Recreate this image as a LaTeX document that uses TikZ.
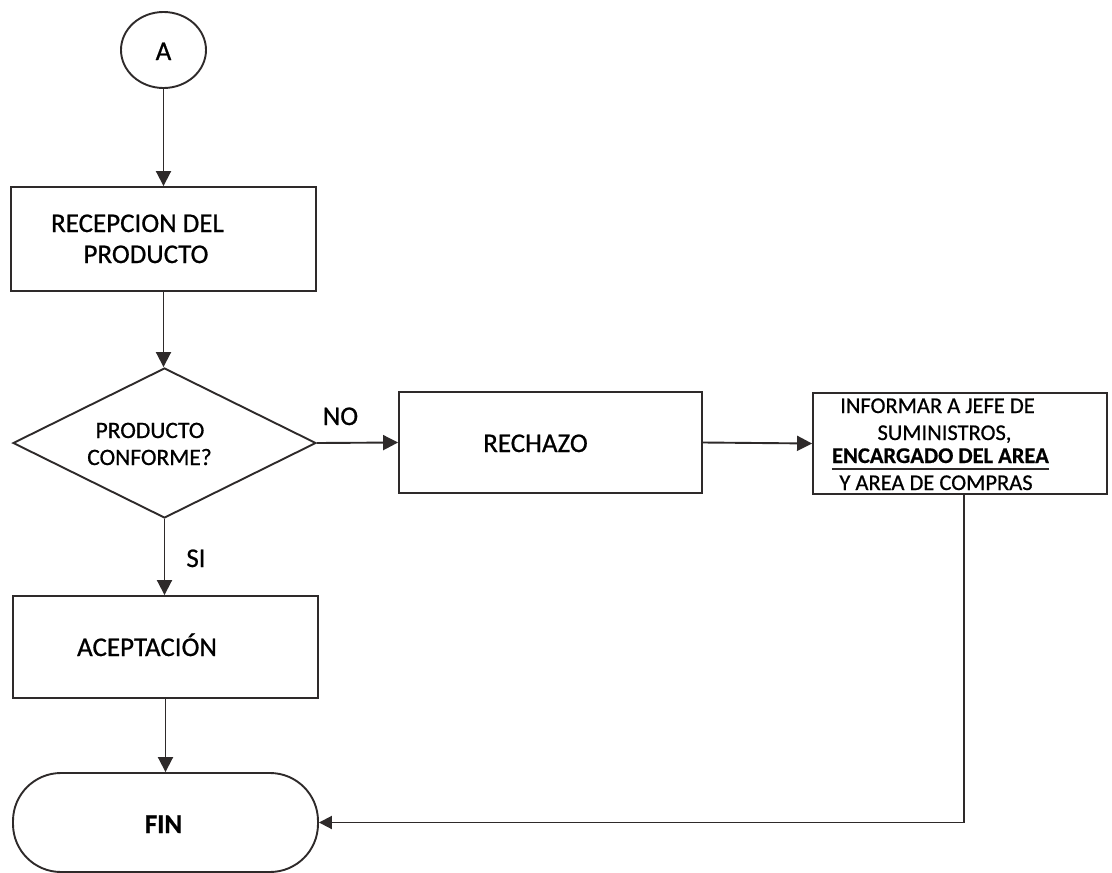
\documentclass[tikz,border=0pt]{standalone}
\usepackage{fontspec}
\setmainfont{Carlito}[FakeBold=0.7, BoldFont=Carlito Bold, BoldFeatures={FakeBold=0.5}]
\usetikzlibrary{arrows.meta,shapes.geometric}
\definecolor{linec}{HTML}{2E2A2A}
\begin{document}
\begin{tikzpicture}[x=1pt,y=-1pt,
  line/.style={draw=linec, line width=1.9pt},
  arr/.style={line, -{Triangle[length=15pt,width=15pt]}},
  procbox/.style={draw=linec, line width=1.9pt, rectangle, inner sep=0pt},
  txt/.style={anchor=base, inner sep=0pt, font=\fontsize{27}{30}\selectfont},
  dtxt/.style={anchor=base, inner sep=0pt, font=\fontsize{23.5}{26}\selectfont},
  itxt/.style={anchor=base, inner sep=0pt, font=\fontsize{22.5}{25}\selectfont},
  ibold/.style={anchor=base, inner sep=0pt, font=\fontsize{22.5}{25}\selectfont\bfseries}
]
\useasboundingbox[fill=white] (0,0) rectangle (1112,873);

% shapes
\node[draw=linec, line width=1.9pt, ellipse, inner sep=0pt, minimum width=85pt, minimum height=76pt] (A) at (163.5,50) {};
\node[procbox, minimum width=305pt, minimum height=104pt] (rec) at (163.5,239) {};
\node[draw=linec, line width=1.9pt, diamond, inner sep=0pt, minimum width=303pt, minimum height=150pt] (dia) at (164.5,443) {};
\node[procbox, minimum width=303pt, minimum height=101pt] (rech) at (550.5,442.5) {};
\node[procbox, minimum width=294pt, minimum height=101pt] (inf) at (960,443.5) {};
\node[procbox, minimum width=305pt, minimum height=102pt] (acep) at (165.5,647) {};
\node[procbox, rounded corners=48pt, minimum width=305pt, minimum height=99pt] (fin) at (165.5,822.5) {};

% texts
\node[txt] (tA) at (163.5,60) {A};
\node[txt] (t1) at (137.5,232) {RECEPCION DEL};
\node[txt] (t2) at (146,263) {PRODUCTO};
\node[dtxt] (t3) at (150,438) {PRODUCTO};
\node[dtxt] (t4) at (149.5,465) {CONFORME?};
\node[txt] (tno) at (340.5,425) {NO};
\node[txt] (tsi) at (196,567) {SI};
\node[txt] (t5) at (535.5,452) {RECHAZO};
\node[itxt] (t6) at (937.5,413) {INFORMAR A JEFE DE};
\node[itxt] (t7) at (944.5,440) {SUMINISTROS,};
\node[ibold] (t8) at (940.5,463) {ENCARGADO DEL AREA};
\node[itxt] (t9) at (936,490) {Y AREA DE COMPRAS};
\node[txt] (t10) at (147,656) {ACEPTACIÓN};
\node[txt, font=\fontsize{27}{30}\selectfont\bfseries] (t11) at (163.5,833) {FIN};
\draw[line, line width=1.8pt] ([yshift=-6pt]t8.base west) -- ([yshift=-6pt]t8.base east);

% connectors
\draw[arr] (A.south) -- (rec.north);
\draw[arr] (rec.south) -- (rec.south |- dia.north);
\draw[arr] (dia.east) -- (rech.west);
\draw[arr] (rech.east) -- (inf.west);
\draw[arr] (dia.south) -- (dia.south |- acep.north);
\draw[arr] (acep.south) -- (fin.north);
\draw[line, -{Triangle[length=13pt,width=13pt]}] ([xshift=4pt]inf.south) |- (fin.east);
\end{tikzpicture}
\end{document}
